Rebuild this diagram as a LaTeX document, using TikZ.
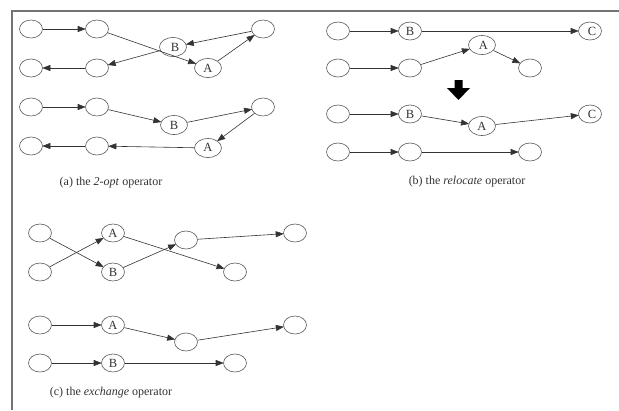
\documentclass[tikz,border=0pt]{standalone}
\usepackage{fontspec}
\setmainfont{Liberation Serif}
\usetikzlibrary{arrows.meta,shapes.geometric}
\begin{document}
\begin{tikzpicture}[x=1pt,y=-1pt,
  nd/.style={ellipse,draw=black!65,line width=0.6pt,minimum width=23pt,minimum height=18pt,inner sep=0pt,font=\fontsize{12.5}{12.5}\selectfont,text=black!80},
  ld/.style={nd,minimum width=27pt,minimum height=19pt},
  ed/.style={draw=black!80,line width=0.6pt,-{Triangle[length=8pt,width=6pt]},shorten >=-0.5pt},
  captext/.style={font=\fontsize{12}{12}\selectfont,text=black!80},
  framel/.style={draw=black!55,line width=1.5pt}]
\useasboundingbox (0,0) rectangle (619,410);
\path[fill=white] (0,0) rectangle (619,410);
\draw[framel] (12,410) -- (12,11) -- (619,11);
% (a) upper
\node[nd] (a1) at (31,29) {};
\node[nd] (a2) at (97,29) {};
\node[ld] (aB) at (173,47) {\hspace{4pt}\raisebox{-2pt}{B}};
\node[nd] (aT) at (263,29) {};
\node[nd] (a3) at (31,68) {};
\node[nd] (a4) at (97,68) {};
\node[ld] (aA) at (208,68) {\raisebox{-3pt}{A}};
\draw[ed] (a1) -- (a2);
\draw[ed] (a2) -- (aA);
\draw[ed] (aA) -- (aT);
\draw[ed] (aT) -- (aB);
\draw[ed] (aB) -- (a4);
\draw[ed] (a4) -- (a3);
% (a) lower
\node[nd] (b1) at (31,107) {};
\node[nd] (b2) at (97,107) {};
\node[ld] (bB) at (174,125) {\raisebox{-3pt}{B}};
\node[nd] (bT) at (263,107) {};
\node[nd] (b3) at (31,146) {};
\node[nd] (b4) at (97,146) {};
\node[ld] (bA) at (208,148) {\raisebox{1pt}{A}};
\draw[ed] (b1) -- (b2);
\draw[ed] (b2) -- (bB);
\draw[ed] (bB) -- (bT);
\draw[ed] (bT) -- (bA);
\draw[ed] (bA) -- (b4);
\draw[ed] (b4) -- (b3);
\node[captext] (capa) at (111,183) {(a) the \textit{2-opt} operator};
% (b) upper
\node[nd] (r1) at (338,31) {};
\node[nd] (rB) at (410,31) {\raisebox{-1pt}{B}};
\node[nd] (rC) at (590,31) {\hspace{4pt}\raisebox{-1pt}{C}};
\node[nd] (r2) at (338,68) {};
\node[nd] (r3) at (410,68) {};
\node[ld] (rA) at (482,45) {\hspace{3pt}\raisebox{-2pt}{A}};
\node[nd] (r4) at (530,68) {};
\draw[ed] (r1) -- (rB);
\draw[ed] (rB) -- (rC);
\draw[ed] (r2) -- (r3);
\draw[ed] (r3) -- (rA);
\draw[ed] (rA) -- (r4);
% big arrow
\fill[black] (454.5,80) -- (462.5,80) -- (462.5,88) -- (470,88) -- (458.5,100) -- (447,88) -- (454.5,88) -- cycle;
% (b) lower
\node[nd] (s1) at (338,114) {};
\node[nd] (sB) at (410,114) {\raisebox{-1pt}{B}};
\node[ld] (sA) at (482,126) {A};
\node[nd] (sC) at (590,114) {\hspace{4pt}\raisebox{-1pt}{C}};
\node[nd] (s2) at (338,152) {};
\node[nd] (s3) at (410,152) {};
\node[nd] (s4) at (530,152) {};
\draw[ed] (s1) -- (sB);
\draw[ed] (sB) -- (sA);
\draw[ed] (sA) -- (sC);
\draw[ed] (s2) -- (s3);
\draw[ed] (s3) -- (s4);
\node[captext] (capb) at (467,182) {(b) the \textit{relocate} operator};
% (c) upper
\node[nd] (e1) at (40,233) {};
\node[nd] (eA) at (113,233) {\raisebox{-3pt}{A}};
\node[nd] (eM) at (186,240) {};
\node[nd] (eF) at (295,233) {};
\node[nd] (e2) at (40,272) {};
\node[nd] (eB) at (113,272) {\raisebox{-3pt}{B}};
\node[nd] (eE) at (235,272) {};
\draw[ed] (e1) -- (eB);
\draw[ed] (e2) -- (eA);
\draw[ed] (eA) -- (eE);
\draw[ed] (eB) -- (eM);
\draw[ed] (eM) -- (eF);
% (c) lower
\node[nd] (f1) at (40,325) {};
\node[nd] (fA) at (113,325) {\raisebox{-3pt}{A}};
\node[nd] (fM) at (186,342) {};
\node[nd] (fF) at (295,325) {};
\node[nd] (f2) at (40,363) {};
\node[nd] (fB) at (113,363) {\raisebox{-3pt}{B}};
\node[nd] (fE) at (235,363) {};
\draw[ed] (f1) -- (fA);
\draw[ed] (fA) -- (fM);
\draw[ed] (fM) -- (fF);
\draw[ed] (f2) -- (fB);
\draw[ed] (fB) -- (fE);
\node[captext] (capc) at (111,393) {(c) the \textit{exchange} operator};
\end{tikzpicture}
\end{document}
